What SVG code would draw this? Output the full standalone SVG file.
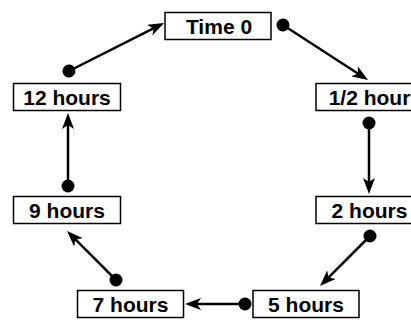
<svg xmlns="http://www.w3.org/2000/svg" width="411" height="320" viewBox="0 0 411 320">
<style>
.box{fill:#fff;stroke:#000;stroke-width:1.5}
.lbl{font-family:"Liberation Sans",Arial,sans-serif;font-weight:bold;font-size:21px;fill:#000;text-anchor:middle}
.conn{stroke:#000;stroke-width:2.5;fill:none;marker-start:url(#dot);marker-end:url(#arr)}
</style>
<defs>
<marker id="arr" viewBox="0 0 16 12" refX="8" refY="6" markerWidth="16" markerHeight="12" markerUnits="userSpaceOnUse" orient="auto">
<path d="M0,0 L16,6 L0,12 L4,6 z" fill="#000"/>
</marker>
<marker id="dot" viewBox="0 0 14 14" refX="7" refY="7" markerWidth="14" markerHeight="14" markerUnits="userSpaceOnUse" orient="auto">
<circle cx="7" cy="7" r="6.5" fill="#000"/>
</marker>
</defs>
<rect width="411" height="320" fill="#fff"/>
<g id="connectors">
<line class="conn" x1="69" y1="71" x2="156.9" y2="26.6"/>
<line class="conn" x1="283" y1="25" x2="361.3" y2="75.7"/>
<line class="conn" x1="369" y1="123" x2="369" y2="186"/>
<line class="conn" x1="370" y1="236" x2="325.7" y2="280.3"/>
<line class="conn" x1="245" y1="304" x2="193" y2="304"/>
<line class="conn" x1="116" y1="280" x2="72.7" y2="236.7"/>
<line class="conn" x1="68" y1="186" x2="68" y2="121"/>
</g>
<g id="time0"><rect class="box" x="165" y="12.5" width="106" height="27"/><text class="lbl" x="219" y="33.5">Time 0</text></g>
<g id="half"><rect class="box" x="316" y="83.5" width="107" height="27"/><text class="lbl" x="369.5" y="104.5">1/2 hour</text></g>
<g id="h2"><rect class="box" x="316" y="196.5" width="107" height="27"/><text class="lbl" x="369.5" y="217.5">2 hours</text></g>
<g id="h5"><rect class="box" x="253" y="290.5" width="106" height="27"/><text class="lbl" x="306" y="311.5">5 hours</text></g>
<g id="h7"><rect class="box" x="77.5" y="290.5" width="106" height="27"/><text class="lbl" x="130.5" y="311.5">7 hours</text></g>
<g id="h9"><rect class="box" x="13.5" y="196.5" width="107" height="27"/><text class="lbl" x="67" y="217.5">9 hours</text></g>
<g id="h12"><rect class="box" x="13.5" y="83.5" width="107" height="27"/><text class="lbl" x="67" y="104.5">12 hours</text></g>
</svg>
